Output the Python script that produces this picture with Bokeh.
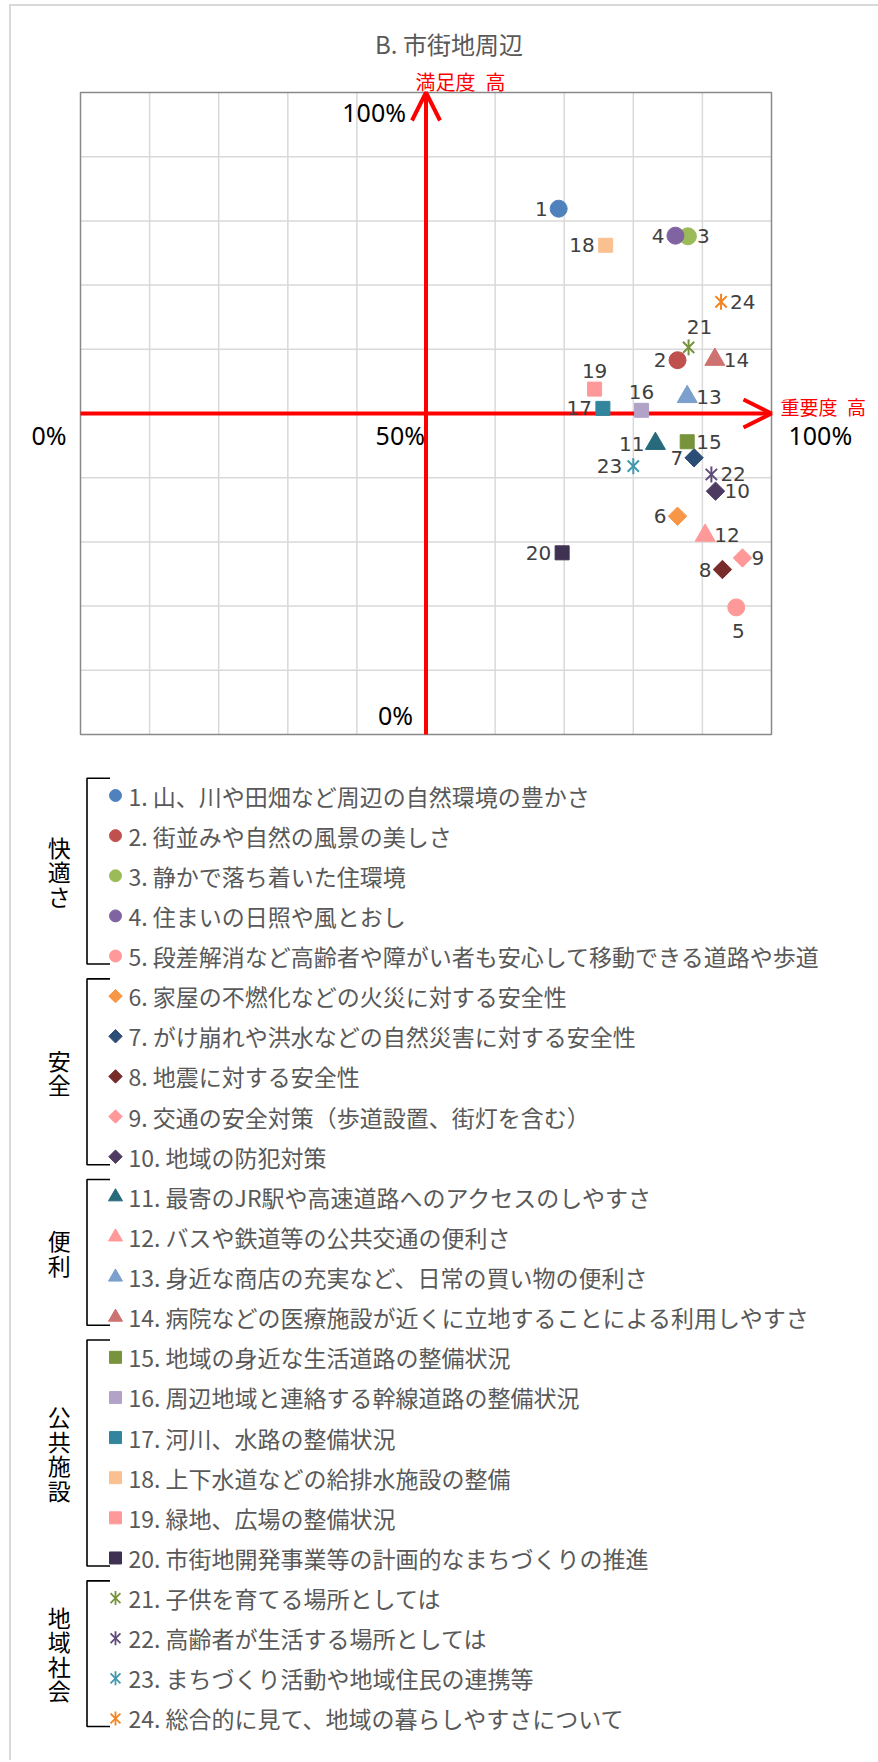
import math
from bokeh.plotting import figure
from bokeh.models import (Range1d, Label, LabelSet, ColumnDataSource, Arrow, OpenHead)
from bokeh.layouts import column
from bokeh.embed import file_html
from bokeh.resources import INLINE
from bokeh.core.properties import value

# ---------------- data ----------------
TITLE = "B. 市街地周辺"
X_AXIS_LABEL = "重要度\u2002高"
Y_AXIS_LABEL = "満足度\u2002高"
PCT_LABELS = ["0%", "50%", "100%"]

ITEM_NO = list(range(1, 25))
ITEM_TEXT = [
    "山、川や田畑など周辺の自然環境の豊かさ",
    "街並みや自然の風景の美しさ",
    "静かで落ち着いた住環境",
    "住まいの日照や風とおし",
    "段差解消など高齢者や障がい者も安心して移動できる道路や歩道",
    "家屋の不燃化などの火災に対する安全性",
    "がけ崩れや洪水などの自然災害に対する安全性",
    "地震に対する安全性",
    "交通の安全対策（歩道設置、街灯を含む）",
    "地域の防犯対策",
    "最寄のJR駅や高速道路へのアクセスのしやすさ",
    "バスや鉄道等の公共交通の便利さ",
    "身近な商店の充実など、日常の買い物の便利さ",
    "病院などの医療施設が近くに立地することによる利用しやすさ",
    "地域の身近な生活道路の整備状況",
    "周辺地域と連絡する幹線道路の整備状況",
    "河川、水路の整備状況",
    "上下水道などの給排水施設の整備",
    "緑地、広場の整備状況",
    "市街地開発事業等の計画的なまちづくりの推進",
    "子供を育てる場所としては",
    "高齢者が生活する場所としては",
    "まちづくり活動や地域住民の連携等",
    "総合的に見て、地域の暮らしやすさについて",
]
IMPORTANCE = [69.2, 86.4, 87.9, 86.1, 94.9, 86.4, 88.8, 92.9, 95.8, 91.9,
              83.2, 90.4, 87.8, 91.8, 87.8, 81.2, 75.6, 76.0, 74.4, 69.7,
              88.0, 91.3, 80.0, 92.7]
SATISFACTION = [81.9, 58.3, 77.6, 77.7, 19.8, 34.0, 43.1, 25.7, 27.5, 37.9,
                45.3, 31.0, 52.6, 58.4, 45.6, 50.5, 50.8, 76.2, 53.8, 28.3,
                60.3, 40.5, 41.8, 67.4]
GROUPS = [("快適さ", 1, 5), ("安全", 6, 10), ("便利", 11, 14),
          ("公共施設", 15, 20), ("地域社会", 21, 24)]
GRID_TICKS = [0, 10, 20, 30, 40, 50, 60, 70, 80, 90, 100]

# ---------------- styles ----------------
COLORS = ["#4F81BD", "#C0504D", "#9BBB59", "#8064A2", "#FF9999",
          "#F79646", "#2C4D75", "#772C2A", "#FF9999", "#4D3B62",
          "#276A7C", "#FF9999", "#7BA0CD", "#CD7270",
          "#77933C", "#B3A2C7", "#31859C", "#FAC090", "#FF9999", "#3F3151",
          "#77933C", "#604A7B", "#4198AF", "#F4821F"]
SHAPES = (["circle"] * 5 + ["diamond"] * 5 + ["triangle"] * 4 +
          ["square"] * 6 + ["star"] * 4)
LABEL_POS = ["L", "L", "R", "L", "B", "L", "L", "L", "R", "R",
             "L", "R", "R", "R", "R", "A", "L", "L", "A", "L",
             "AR", "R", "L", "R"]
POS_STYLE = {  # align, x_offset, y_offset (up positive)
    "L": ("right", -11, 0),
    "R": ("left", 9, 0),
    "A": ("center", 0, 18),
    "AR": ("center", 11, 20),
    "B": ("center", 2, -24),
}
PLOT_SIZES = {"circle": 17, "diamond": 13, "triangle": 20, "square": 14, "star": 16}
LEG_SIZES = {"circle": 12, "diamond": 9.5, "triangle": 14, "square": 12, "star": 14}
CJK = "Noto Sans CJK JP"

# layout geometry (pixels inside each figure)
W = 867
H1, H2 = 752, 1002
FR_L, FR_R, FR_T, FR_B = 69, 760, 86, 728   # data frame 0..100 inside scatter figure
GL_STEP = 24.5  # px between stacked characters of group labels


def draw_markers(fig, xs, ys, sizes, star_w):
    for shape in ["circle", "diamond", "triangle", "square", "star"]:
        idx = [i for i, s in enumerate(SHAPES) if s == shape]
        src = ColumnDataSource(dict(x=[xs[i] for i in idx], y=[ys[i] for i in idx],
                                    c=[COLORS[i] for i in idx]))
        sz = sizes[shape]
        if shape == "circle":
            fig.scatter("x", "y", source=src, marker="circle", size=sz,
                        fill_color="c", line_color="c")
        elif shape == "diamond":
            fig.scatter("x", "y", source=src, marker="square", size=sz, angle=math.pi / 4,
                        fill_color="c", line_color="c")
        elif shape == "triangle":
            fig.scatter("x", "y", source=src, marker="triangle", size=sz,
                        fill_color="c", line_color="c")
        elif shape == "square":
            fig.scatter("x", "y", source=src, marker="square", size=sz,
                        fill_color="c", line_color="c")
        else:
            fig.scatter("x", "y", source=src, marker="x", size=sz,
                        line_color="c", line_width=star_w)
            fig.scatter("x", "y", source=src, marker="dash", size=sz, angle=math.pi / 2,
                        line_color="c", line_width=star_w)


# ---------------- scatter figure ----------------
sx = (FR_R - FR_L) / 100.0
sy = (FR_B - FR_T) / 100.0
p = figure(width=W, height=H1,
           x_range=Range1d(-FR_L / sx, 100 + (W - FR_R) / sx),
           y_range=Range1d(-(H1 - FR_B) / sy, 100 + FR_T / sy),
           x_axis_location=None, y_axis_location=None, toolbar_location=None,
           output_backend="svg", min_border=0, outline_line_color=None,
           background_fill_color="white", border_fill_color="white")
p.grid.visible = False

lo, hi = GRID_TICKS[0], GRID_TICKS[-1]
inner = GRID_TICKS[1:-1]
p.segment(x0=inner, y0=[lo] * len(inner), x1=inner, y1=[hi] * len(inner),
          line_color="#D9D9D9", line_width=1.5, level="image")
p.segment(x0=[lo] * len(inner), y0=inner, x1=[hi] * len(inner), y1=inner,
          line_color="#D9D9D9", line_width=1.5, level="image")
p.quad(left=[lo], right=[hi], bottom=[lo], top=[hi], fill_color=None,
       line_color="#898989", line_width=1.5, level="image")

for xs_, ys_, xe_, ye_ in [(50, 0, 50, 100), (0, 50, 100, 50)]:
    p.add_layout(Arrow(end=OpenHead(size=28, line_color="red", line_width=4),
                       x_start=xs_, y_start=ys_, x_end=xe_, y_end=ye_,
                       line_color="red", line_width=4, level="underlay"))

draw_markers(p, IMPORTANCE, SATISFACTION, PLOT_SIZES, 2)

for code, (align, dx, dy) in POS_STYLE.items():
    idx = [i for i, c in enumerate(LABEL_POS) if c == code]
    if not idx:
        continue
    src = ColumnDataSource(dict(x=[IMPORTANCE[i] for i in idx],
                                y=[SATISFACTION[i] for i in idx],
                                t=[str(ITEM_NO[i]) for i in idx]))
    p.add_layout(LabelSet(x="x", y="y", text="t", source=src, x_offset=dx, y_offset=dy,
                          text_align=align, text_baseline="middle",
                          text_font=value("DejaVu Sans"), text_font_size="20px",
                          text_color="#404040"))


def lab(x, y, dx, dy, text, align, size, color, font):
    p.add_layout(Label(x=x, y=y, x_offset=dx, y_offset=dy, text=text, text_align=align,
                       text_baseline="middle", text_font=font, text_font_size=size,
                       text_color=color))


lab(50, 100, 23, 49, TITLE, "center", "24px", "#595959", CJK)
lab(50, 100, -10.5, 11, Y_AXIS_LABEL, "left", "20px", "red", CJK)
lab(100, 50, 9, 7, X_AXIS_LABEL, "left", "19px", "red", CJK)
lab(50, 100, -20, -19, PCT_LABELS[2], "right", "25px", "black", "Noto Sans")
lab(50, 50, -1, -21, PCT_LABELS[1], "right", "25px", "black", "Noto Sans")
lab(0, 50, -14, -21, PCT_LABELS[0], "right", "25px", "black", "Noto Sans")
lab(50, 0, -13, 20, PCT_LABELS[0], "right", "25px", "black", "Noto Sans")
lab(100, 50, 17, -21, PCT_LABELS[2], "left", "25px", "black", "Noto Sans")

# ---------------- legend figure ----------------
ROW = 40.13
ROW0 = 37
q = figure(width=W, height=H2, x_range=Range1d(0, W),
           y_range=Range1d((H2 - ROW0) / ROW, -ROW0 / ROW),
           x_axis_location=None, y_axis_location=None, toolbar_location=None,
           output_backend="svg", min_border=0, outline_line_color=None,
           background_fill_color="white", border_fill_color="white")
q.grid.visible = False

rows = [n - 1 for n in ITEM_NO]
MARK_X, TEXT_X, BR_X, BR_END, GL_X = 104, 117, 75.5, 98.5, 47.75
draw_markers(q, [MARK_X] * len(rows), rows, LEG_SIZES, 1.8)
q.text(x=[TEXT_X] * len(rows), y=rows,
       text=[f"{n}. {t}" for n, t in zip(ITEM_NO, ITEM_TEXT)],
       text_baseline="middle", text_align="left", text_font=value(CJK),
       text_font_size="23px", text_color="#595959")

bxs, bys, gx, gy, gt = [], [], [], [], []
for name, a, b in GROUPS:
    top, bot = a - 1 - 0.43, b - 1 + 0.2
    bxs.append([BR_END, BR_X, BR_X, BR_END])
    bys.append([top, top, bot, bot])
    mid = (top + bot) / 2
    n = len(name)
    for k, ch in enumerate(name):
        gx.append(GL_X)
        gy.append(mid + (k - (n - 1) / 2) * GL_STEP / ROW)
        gt.append(ch)
q.multi_line(bxs, bys, line_color="black", line_width=1.6)
q.text(x=gx, y=gy, text=gt, text_align="center", text_baseline="middle",
       text_font=value(CJK), text_font_size="23px", text_color="black")

layout = column(p, q, styles={"border-top": "2px solid #D9D9D9",
                              "border-left": "2px solid #D9D9D9",
                              "margin-left": "9px", "margin-top": "4px"})
open("out.html", "w").write(file_html(layout, INLINE))
